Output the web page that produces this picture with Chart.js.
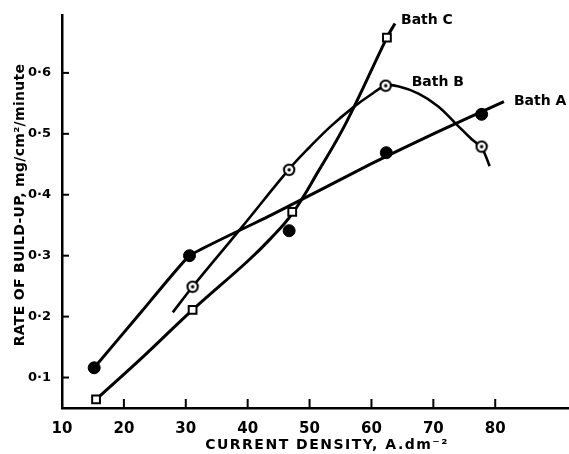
<!DOCTYPE html>
<html>
<head>
<meta charset="utf-8">
<script src="https://cdn.jsdelivr.net/npm/chart.js@4.4.1/dist/chart.umd.min.js"></script>
<style>
  html, body { margin: 0; padding: 0; background: #fff; overflow: hidden; }
  /* a bit wider than the window so the x axis runs to the right edge */
  #wrap { width: 577px; height: 454px; position: relative; }
</style>
</head>
<body>
<div id="wrap"><canvas id="chartBuildUp"></canvas></div>
<script>
// Rate of build-up vs current density for three baths.
// Values.

const xTicks = [10, 20, 30, 40, 50, 60, 70, 80];
const yTicks = [0.1, 0.2, 0.3, 0.4, 0.5, 0.6];

// measured points (markers)
const bathAx = [15.2, 30.6, 46.7, 62.4, 77.8];
const bathAy = [0.116, 0.300, 0.341, 0.469, 0.532];
const bathBx = [31.1, 46.7, 62.3, 77.8];
const bathBy = [0.249, 0.441, 0.579, 0.479];
const bathCx = [15.5, 31.1, 47.2, 62.5];
const bathCy = [0.064, 0.211, 0.372, 0.658];

// hand-drawn curves
const curveAx = [15.2, 23.0, 30.6, 43.7, 60.0, 70.0, 81.4];
const curveAy = [0.116, 0.210, 0.300, 0.366, 0.451, 0.500, 0.553];
const curveBx = [27.9, 31.1, 39.0, 46.7, 50.0, 53.5, 57.0, 60.0, 62.3, 64.3, 67.6, 70.8, 73.7, 76.2, 77.8, 79.1];
const curveBy = [0.207, 0.249, 0.346, 0.442, 0.478, 0.513, 0.543, 0.565, 0.579, 0.578, 0.566, 0.545, 0.516, 0.491, 0.477, 0.447];
const curveCx = [15.5, 23.3, 31.1, 39.9, 43.7, 47.2, 51.5, 55.9, 62.5, 63.8];
const curveCy = [0.064, 0.136, 0.211, 0.290, 0.328, 0.369, 0.440, 0.518, 0.658, 0.681];

const pts = (xs, ys) => xs.map((x, i) => ({ x: x, y: ys[i] }));

// open circle with a dot in the middle (Bath B marker)
function ringDot() {
    const c = document.createElement('canvas');
    c.width = 14; c.height = 14;
    const g = c.getContext('2d');
    g.fillStyle = '#fff';
    g.strokeStyle = '#000';
    g.lineWidth = 2;
    g.beginPath(); g.arc(7, 7, 5.2, 0, Math.PI * 2); g.fill(); g.stroke();
    g.fillStyle = '#000';
    g.beginPath(); g.arc(7, 7, 1.7, 0, Math.PI * 2); g.fill();
    return c;
}

const curve = (xs, ys, w, t) => ({
    type: 'line',
    data: pts(xs, ys),
    borderColor: '#000',
    borderWidth: w,
    pointRadius: 0,
    tension: t,
    fill: false,
    order: 2,
});

const FONT = '"DejaVu Sans", sans-serif';

// inward tick marks, axis titles and curve labels
const extras = {
    id: 'extras',
    afterDatasetsDraw(chart) {
        const { ctx, chartArea, scales } = chart;
        const x = scales.x, y = scales.y;
        ctx.save();
        ctx.strokeStyle = '#000';
        ctx.lineWidth = 2;
        yTicks.forEach(v => {
            const py = y.getPixelForValue(v);
            ctx.beginPath(); ctx.moveTo(chartArea.left, py); ctx.lineTo(chartArea.left + 7, py); ctx.stroke();
        });
        xTicks.slice(1).forEach(v => {
            const px = x.getPixelForValue(v);
            ctx.beginPath(); ctx.moveTo(px, chartArea.bottom); ctx.lineTo(px, chartArea.bottom - 9); ctx.stroke();
        });

        ctx.fillStyle = '#000';
        ctx.textBaseline = 'middle';

        // axis titles
        ctx.font = 'bold 14px ' + FONT;
        ctx.textAlign = 'center';
        ctx.letterSpacing = '1.5px';
        ctx.fillText('CURRENT DENSITY, A.dm⁻²', 327, 445);
        ctx.letterSpacing = '0.3px';
        ctx.translate(20, 205);
        ctx.rotate(-Math.PI / 2);
        ctx.fillText('RATE OF BUILD-UP, mg/cm²/minute', 0, 0);
        ctx.setTransform(1, 0, 0, 1, 0, 0);
        ctx.letterSpacing = '0px';

        // curve labels
        ctx.font = 'bold 14px ' + FONT;
        ctx.textAlign = 'left';
        const endA = curveAx.length - 1, endC = curveCx.length - 1;
        ctx.fillText('Bath C', x.getPixelForValue(curveCx[endC]) + 6, y.getPixelForValue(curveCy[endC]) - 3);
        ctx.fillText('Bath B', x.getPixelForValue(bathBx[2]) + 26, y.getPixelForValue(bathBy[2]) - 3);
        ctx.fillText('Bath A', x.getPixelForValue(curveAx[endA]) + 10, y.getPixelForValue(curveAy[endA]));
        ctx.restore();
    },
};

new Chart(document.getElementById('chartBuildUp'), {
    type: 'scatter',
    data: {
        datasets: [
            curve(curveAx, curveAy, 3, 0.1),
            curve(curveBx, curveBy, 2.6, 0.4),
            curve(curveCx, curveCy, 3, 0.4),
            {
                label: 'Bath A',
                data: pts(bathAx, bathAy),
                pointStyle: 'circle',
                pointRadius: 6,
                backgroundColor: '#000',
                borderColor: '#000',
                order: 1,
            },
            {
                label: 'Bath B',
                data: pts(bathBx, bathBy),
                pointStyle: ringDot(),
                order: 1,
            },
            {
                label: 'Bath C',
                data: pts(bathCx, bathCy),
                pointStyle: 'rect',
                pointRadius: 5.5,
                backgroundColor: '#fff',
                borderColor: '#000',
                borderWidth: 2,
                order: 1,
            },
        ],
    },
    options: {
        responsive: true,
        maintainAspectRatio: false,
        animation: false,
        layout: { padding: { top: 15, right: 0, left: 0, bottom: 0 } },
        plugins: { legend: { display: false }, tooltip: { enabled: false } },
        scales: {
            x: {
                type: 'linear',
                min: 10,
                max: 92,
                afterBuildTicks: (s) => { s.ticks = xTicks.map(v => ({ value: v })); },
                afterFit: (s) => { s.height = 46; s.paddingRight = 0; s.paddingLeft = 0; },
                grid: { display: false },
                border: { color: '#000', width: 2.5 },
                ticks: {
                    color: '#000',
                    padding: 4,
                    maxRotation: 0,
                    font: { family: FONT, size: 15, weight: 'bold' },
                    callback: (v) => String(v),
                },
            },
            y: {
                type: 'linear',
                min: 0.05,
                max: 0.695,
                afterBuildTicks: (s) => { s.ticks = yTicks.map(v => ({ value: v })); },
                afterFit: (s) => { s.width = 62; s.paddingTop = 0; s.paddingBottom = 0; },
                grid: { display: false },
                border: { color: '#000', width: 2.5 },
                ticks: {
                    color: '#000',
                    padding: 3,
                    font: { family: FONT, size: 13, weight: 'bold' },
                    callback: (v) => v.toFixed(1).replace('.', '·'),
                },
            },
        },
    },
    plugins: [extras],
});
</script>
</body>
</html>
